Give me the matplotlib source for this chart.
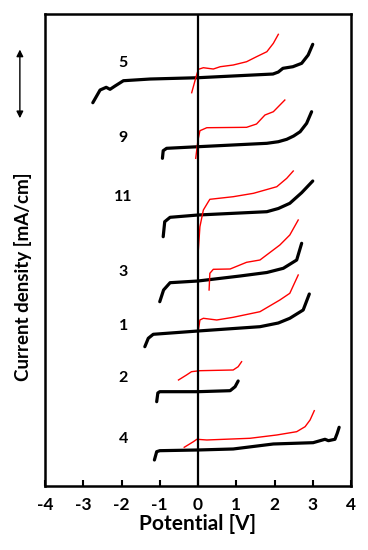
import numpy as np
import matplotlib.pyplot as plt

plt.rcParams['font.family'] = ['Lato', 'DejaVu Sans']
plt.rcParams['font.weight'] = 'bold'
plt.rcParams['axes.unicode_minus'] = False

# curves: potential [V], current density (arbitrary offset units)
v5_b = [-2.75, -2.56, -2.4, -2.3, -2.17, -1.95, -1.25, 0.0, 1.96, 2.1, 2.22, 2.48, 2.71, 2.88, 3.0]
j5_b = [383.3, 396, 398.7, 396.7, 400, 405.3, 407, 408.3, 412, 414, 417.7, 419.3, 422.7, 431, 441.7]
v5_r = [-0.165, -0.05, 0.01, 0.14, 0.4, 0.58, 0.92, 1.27, 1.53, 1.80, 1.97, 2.1]
j5_r = [393.3, 409.3, 416.7, 418.3, 417, 419.3, 421, 424.3, 429.3, 434.3, 442.7, 451.7]

v9_b = [-0.93, -0.91, -0.82, 0.0, 1.80, 2.1, 2.32, 2.5, 2.67, 2.84, 2.97]
j9_b = [327.7, 335.3, 337.7, 339.3, 342.7, 344.3, 346.7, 350, 354.3, 362.7, 374.3]
v9_r = [-0.06, 0.0, 0.05, 0.23, 1.27, 1.53, 1.75, 1.97, 2.27]
j9_r = [327.7, 346, 355.3, 358.3, 358.7, 362, 371, 374.3, 386]

v11_b = [-0.91, -0.87, -0.73, 0.0, 1.8, 2.1, 2.4, 2.71, 3.0]
j11_b = [249.3, 264.3, 268.7, 271, 274.3, 277.5, 282.7, 293.3, 305]
v11_r = [0.01, 0.05, 0.14, 0.27, 0.31, 0.92, 1.45, 2.06, 2.32, 2.49]
j11_r = [236.7, 259.3, 276, 284.3, 286.7, 289.3, 292.7, 299.3, 307.7, 315]

v3_b = [-1.0, -0.9, -0.73, 0.0, 1.1, 1.8, 2.23, 2.58, 2.71]
j3_b = [184.3, 196, 203.3, 205, 210, 213.5, 217.7, 226, 242.7]
v3_r = [0.29, 0.31, 0.4, 0.84, 1.27, 1.62, 2.14, 2.4, 2.62]
j3_r = [196, 212.7, 216.7, 217, 223.7, 226, 241, 251, 266]

v1_b = [-1.39, -1.3, -1.17, 0.0, 1.62, 2.1, 2.4, 2.75, 2.91]
j1_b = [139.3, 147.7, 151.7, 155, 159.3, 163, 167.7, 176, 192]
v1_r = [0.01, 0.05, 0.14, 0.49, 0.92, 1.62, 2.14, 2.4, 2.62]
j1_r = [156, 166, 167.7, 166, 168.7, 174.3, 186, 192.7, 211]

v2_b = [-1.08, -1.05, -1.0, 0.0, 0.84, 0.97, 1.05]
j2_b = [84.3, 93, 94.3, 94.3, 95.3, 99.3, 105]
v2_r = [-0.51, -0.3, -0.17, 0.05, 0.92, 1.05, 1.14]
j2_r = [106, 111, 114.3, 115.3, 116, 119.3, 124.3]

v4_b = [-1.14, -1.08, -1.0, 0.0, 0.92, 1.97, 3.01, 3.32, 3.41, 3.58, 3.64, 3.69]
j4_b = [26, 34.3, 35.3, 36, 37, 42, 43.3, 46.7, 45.3, 46.7, 52.7, 58.7]
v4_r = [-0.36, -0.12, -0.03, 0.23, 1.36, 2.06, 2.58, 2.8, 2.93, 3.04]
j4_r = [38.7, 44.3, 46.7, 46, 47.7, 51, 54.3, 59.3, 66, 75.3]

labels = ['5', '9', '11', '3', '1', '2', '4']
label_y = [423, 348, 289, 214, 160, 108, 47]

black = [(v5_b, j5_b), (v9_b, j9_b), (v11_b, j11_b), (v3_b, j3_b),
         (v1_b, j1_b), (v2_b, j2_b), (v4_b, j4_b)]
red = [(v5_r, j5_r), (v9_r, j9_r), (v11_r, j11_r), (v3_r, j3_r),
       (v1_r, j1_r), (v2_r, j2_r), (v4_r, j4_r)]

fig = plt.figure(figsize=(3.68, 5.5), dpi=100)
ax = fig.add_axes([0.1223, 0.1164, 0.8315, 0.8581])

for v, j in black:
    ax.plot(v, j, color='black', lw=2.3, solid_capstyle='round', solid_joinstyle='round')
for v, j in red:
    ax.plot(v, j, color='red', lw=1.0)

ax.axvline(0, color='black', lw=1.6)

for lab, y in zip(labels, label_y):
    ax.text(-1.95, y, lab, ha='center', va='center', fontsize=11.5, fontweight='bold')

ax.set_xlim(-4, 4)
ax.set_ylim(0, 472)
ax.set_xticks(range(-4, 5))
ax.set_yticks([])
ax.tick_params(axis='x', direction='in', length=4, width=1.5, labelsize=12.5, pad=8)
for s in ax.spines.values():
    s.set_linewidth(1.8)

ax.set_xlabel('Potential [V]', fontsize=15, fontweight='bold', labelpad=1)
fig.text(0.063, 0.497, 'Current density [mA/cm]', rotation=90, ha='center', va='center',
         fontsize=13.5, fontweight='bold')

ax.annotate('', xy=(0.054, 0.915), xycoords='figure fraction',
            xytext=(0.054, 0.78), textcoords='figure fraction',
            arrowprops=dict(arrowstyle='<|-|>', color='black', lw=1.0,
                            mutation_scale=10))

fig.savefig('out.png', dpi=100)
